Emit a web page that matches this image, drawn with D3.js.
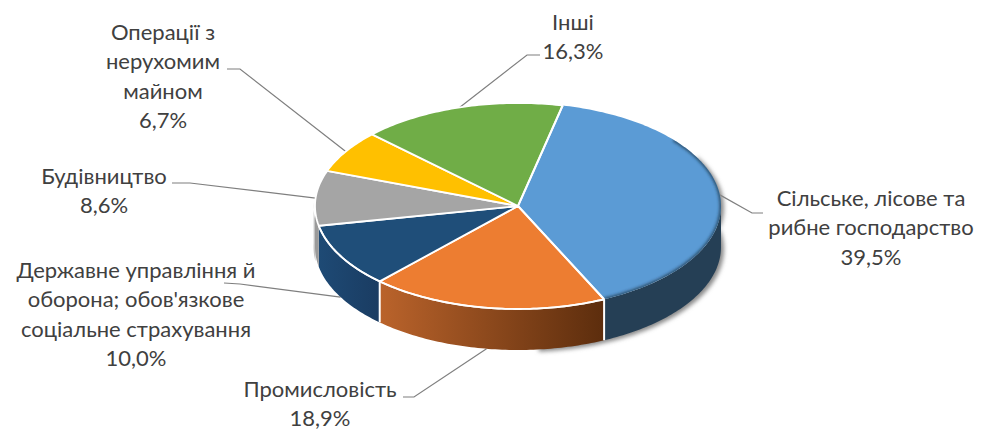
<!DOCTYPE html>
<html><head><meta charset="utf-8">
<script src="https://cdnjs.cloudflare.com/ajax/libs/d3/7.8.5/d3.min.js"></script>
<style>html,body{margin:0;padding:0;background:#fff}svg{display:block}
text{font-family:Lato,"Open Sans","Noto Sans",sans-serif;font-size:22px;fill:#404040;text-anchor:middle}</style>
</head><body><svg id="c" width="981" height="431"></svg>
<script>
const categories = ["Сільське, лісове та рибне господарство","Промисловість","Державне управління й оборона; обов'язкове соціальне страхування","Будівництво","Операції з нерухомим майном","Інші"];
const values = [39.5,18.9,10.0,8.6,6.7,16.3];
const valueLabels = ["39,5%","18,9%","10,0%","8,6%","6,7%","16,3%"];
const labelLines = [["Сільське, лісове та","рибне господарство"],["Промисловість"],["Державне управління й","оборона; обов'язкове","соціальне страхування"],["Будівництво"],["Операції з","нерухомим","майном"],["Інші"]];
const colors = ["#5B9BD5","#ED7D31","#1F4E79","#A5A5A5","#FFC000","#70AD47"];

// layout
const cx=518,cy=206,rx=203,ry=103,depth=41,lineH=29.4;
const labelPos=[[871,206],[320,397],[136,278],[104,184],[163,40],[573,29.5]];
const elbows=[[[752,213],[763,213]],[[414,397],[403,397]],[[240,284],[224,283]],[[190,183],[172,183]],[[240,69],[227,69]],[[527,55],[540,55]]];

const svg=d3.select("#c");
const defs=svg.append("defs");
const rad=d=>d*Math.PI/180;
const start=rad(12.7);
const pie=d3.pie().sort(null).startAngle(start).endAngle(start+2*Math.PI);
const arcs=pie(values);
const pt=(a,dy=0)=>[cx+rx*Math.sin(a),cy-ry*Math.cos(a)+dy];
const line=d3.line();
const samples=(a0,a1)=>{const n=Math.max(2,Math.ceil((a1-a0)/rad(1)));return d3.range(n+1).map(i=>a0+(a1-a0)*i/n);};
const topPath=a=>line([[cx,cy],...samples(a.startAngle,a.endAngle).map(t=>pt(t))])+"Z";
const sidePath=(a0,a1)=>{const s=samples(a0,a1);return line([...s.map(t=>pt(t)),...s.slice().reverse().map(t=>pt(t,depth))])+"Z";};

const g1=defs.append("linearGradient").attr("id","gOrange").attr("gradientUnits","userSpaceOnUse").attr("x1",380).attr("x2",605).attr("y1",0).attr("y2",0);
g1.append("stop").attr("offset",0).attr("stop-color","#BA632B");g1.append("stop").attr("offset",1).attr("stop-color","#5C2D0D");
const g2=defs.append("linearGradient").attr("id","gBlue").attr("gradientUnits","userSpaceOnUse").attr("x1",318).attr("x2",380).attr("y1",0).attr("y2",0);
g2.append("stop").attr("offset",0).attr("stop-color","#1E4A75");g2.append("stop").attr("offset",1).attr("stop-color","#1A3C62");
const sideFill=["#253F55","url(#gOrange)","url(#gBlue)","#9A9A9A","#FFC000","#70AD47"];
const f=defs.append("filter").attr("id","sh").attr("x","-10%").attr("y","-10%").attr("width","120%").attr("height","120%");
f.append("feGaussianBlur").attr("stdDeviation",2);
const f2=defs.append("filter").attr("id","rim").attr("x","-10%").attr("y","-10%").attr("width","120%").attr("height","120%");
f2.append("feGaussianBlur").attr("stdDeviation",1.4);
defs.append("clipPath").attr("id","clipBlue").append("path").attr("d",topPath(arcs[0]));

// leaders
arcs.forEach((a,i)=>{
  const m=(a.startAngle+a.endAngle)/2;
  const front=Math.cos(m)<-0.3;
  svg.append("path").attr("d",line([pt(m,front?depth:0),...elbows[i]])).attr("fill","none").attr("stroke","#7f7f7f").attr("stroke-width",1.2);
});

// shadow of the body
svg.append("path").attr("d",sidePath(rad(60),rad(175)))
  .attr("transform","translate(3,2)").attr("fill","#8a8a8a").attr("filter","url(#sh)");
svg.append("path").attr("d",sidePath(rad(262),rad(272))).attr("transform","translate(-1.5,0)").attr("fill","#c4c4c4");

// sides
const lo=rad(90),hi=rad(270);
arcs.forEach((a,i)=>{
  const a0=Math.max(a.startAngle,lo),a1=Math.min(a.endAngle,hi);
  if(a1<=a0)return;
  svg.append("path").attr("d",sidePath(a0,a1)).attr("fill",sideFill[i]);
});
[arcs[0].endAngle,arcs[1].endAngle].forEach(t=>{
  svg.append("path").attr("d",line([pt(t),pt(t,depth)])).attr("stroke","#fff").attr("stroke-width",2).attr("fill","none");
});

// top slices
arcs.forEach((a,i)=>{
  svg.append("path").attr("d",topPath(a)).attr("fill",colors[i])
    .attr("stroke",i==0?"none":"#fff").attr("stroke-width",1.8).attr("stroke-linejoin","round");
});
// rim shading on the blue slice
svg.append("g").attr("clip-path","url(#clipBlue)").append("path")
  .attr("d",line(samples(rad(50),arcs[0].endAngle).map(t=>pt(t))))
  .attr("fill","none").attr("stroke","#1d3347").attr("stroke-width",3).attr("stroke-opacity",.8).attr("filter","url(#rim)");
[arcs[0].startAngle,arcs[0].endAngle].forEach(t=>{
  svg.append("path").attr("d",line([[cx,cy],pt(t)])).attr("stroke","#fff").attr("stroke-width",2).attr("fill","none");
});
svg.append("path").attr("d",line(samples(arcs[1].startAngle,arcs[3].startAngle).map(t=>pt(t))))
  .attr("fill","none").attr("stroke","#fff").attr("stroke-width",1.8);

// labels
arcs.forEach((a,i)=>{
  const lines=[...labelLines[i],valueLabels[i]];
  const t=svg.append("text");
  lines.forEach((s,k)=>t.append("tspan").attr("x",labelPos[i][0]).attr("y",labelPos[i][1]+k*lineH).text(s));
});
</script></body></html>
